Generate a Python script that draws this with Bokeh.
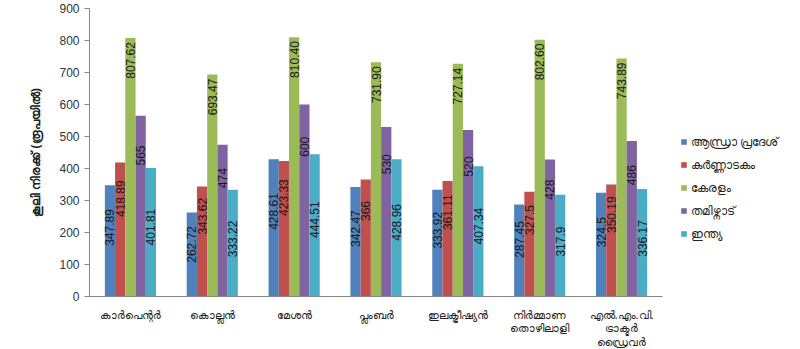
from math import pi
from bokeh.plotting import figure
from bokeh.models import ColumnDataSource, FactorRange, Range1d, Legend, LegendItem, SingleIntervalTicker
from bokeh.transform import dodge
from bokeh.core.properties import value
from bokeh.embed import file_html
from bokeh.resources import INLINE

categories = ["കാർപെന്റർ", "കൊല്ലൻ", "മേശൻ", "പ്ലംബർ", "ഇലക്ട്രീഷ്യൻ",
              "നിർമ്മാണ\nതൊഴിലാളി", "എൽ.എം.വി.\nട്രാക്ടർ\nഡ്രൈവർ"]
series_names = ["ആന്ധ്രാ പ്രദേശ്", "കർണ്ണാടകം", "കേരളം", "തമിഴ്നാട്", "ഇന്ത്യ"]

andhra = [347.89, 262.72, 428.61, 342.47, 333.92, 287.45, 324.5]
karnataka = [418.89, 343.62, 423.33, 366, 361.11, 327.5, 350.19]
kerala = [807.62, 693.47, 810.40, 731.90, 727.14, 802.60, 743.89]
tamilnadu = [565, 474, 600, 530, 520, 428, 486]
india = [401.81, 333.22, 444.51, 428.96, 407.34, 317.9, 336.17]

y_label = "കൂലി നിരക്ക് (രൂപയിൽ)"

colors = ["#4F81BD", "#C0504D", "#9BBB59", "#8064A2", "#4BACC6"]
series_values = [andhra, karnataka, kerala, tamilnadu, india]
offsets = [-0.25, -0.125, 0.0, 0.125, 0.25]
label_frac = [0.62, 0.73, None, 0.78, 0.54]
bar_w = 0.125

p = figure(x_range=FactorRange(factors=categories), y_range=Range1d(0, 900),
           frame_width=573, frame_height=288, output_backend="svg", toolbar_location=None,
           min_border_left=89, min_border_top=8, min_border_bottom=53, min_border_right=138)
p.outline_line_color = None
p.xgrid.grid_line_color = None
p.ygrid.grid_line_color = None
p.background_fill_color = "white"

items = []
for name, vals, col, off, frac in zip(series_names, series_values, colors, offsets, label_frac):
    if frac is None:
        texts = [f"{v:.2f}" for v in vals]
        ly = list(vals)
    else:
        texts = [f"{v:g}" for v in vals]
        ly = [v * frac for v in vals]
    src = ColumnDataSource(dict(cat=categories, val=vals, lt=texts, ly=ly))
    r = p.vbar(x=dodge("cat", off, range=p.x_range), top="val", width=bar_w, source=src,
               fill_color=col, line_color=None)
    items.append(LegendItem(label=name, renderers=[r]))
    if frac is None:
        p.text(x=dodge("cat", off, range=p.x_range), y="ly", text="lt", source=src,
               angle=pi / 2, text_align="right", text_baseline="middle", y_offset=4,
               text_font=value("Liberation Sans"), text_font_size="12px", text_color="#1a1a1a")
    else:
        p.text(x=dodge("cat", off, range=p.x_range), y="ly", text="lt", source=src,
               angle=pi / 2, text_align="center", text_baseline="middle",
               text_font=value("Liberation Sans"), text_font_size="12px", text_color="#1a1a1a")

yax = p.yaxis[0]
yax.ticker = SingleIntervalTicker(interval=100)
yax.axis_line_color = "#868686"
yax.major_tick_line_color = "#868686"
yax.major_tick_out = 5
yax.major_tick_in = 0
yax.minor_tick_line_color = None
yax.major_label_text_font = "Liberation Sans"
yax.major_label_text_font_size = "12px"
yax.major_label_text_color = "#333333"
yax.major_label_standoff = 5
yax.axis_label = y_label
yax.axis_label_text_font = "Noto Sans"
yax.axis_label_text_font_size = "12px"
yax.axis_label_text_font_style = "bold"
yax.axis_label_text_color = "#222222"
yax.axis_label_standoff = 12

xax = p.xaxis[0]
xax.axis_line_color = "#868686"
xax.major_tick_line_color = None
xax.minor_tick_line_color = None
xax.major_label_text_font = "Noto Sans"
xax.major_label_text_font_size = "11px"
xax.major_label_text_line_height = 0.9
xax.major_label_text_color = "#222222"
xax.major_label_standoff = 4
xax.group_text_font_size = "0px"

legend = Legend(items=items, location=(18, 54), orientation="vertical")
legend.border_line_color = None
legend.background_fill_alpha = 0
legend.glyph_width = 7
legend.glyph_height = 7
legend.label_height = 16
legend.spacing = 6
legend.padding = 0
legend.margin = 0
legend.label_standoff = 4
legend.label_text_font = "Noto Sans"
legend.label_text_font_size = "12px"
legend.label_text_color = "#222222"
p.add_layout(legend, "right")

open("out.html", "w").write(file_html(p, INLINE))
